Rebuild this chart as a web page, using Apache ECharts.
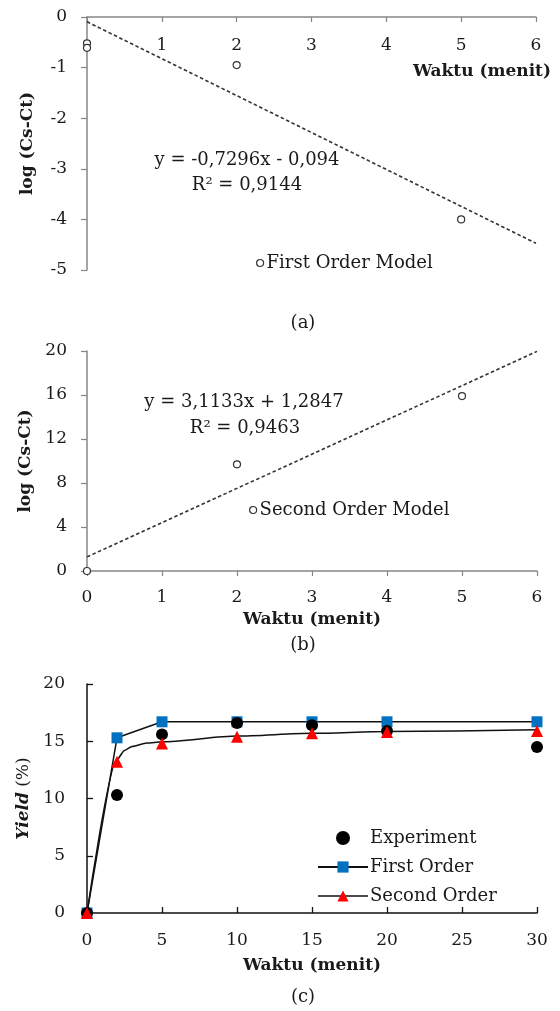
<!DOCTYPE html>
<html>
<head>
<meta charset="utf-8">
<script src="https://cdn.jsdelivr.net/npm/echarts@6/dist/echarts.min.js"></script>
<style>
html,body{margin:0;padding:0;background:#fff;}
#c{width:560px;height:1011px;}
</style>
</head>
<body>
<div id="c"></div>
<script>
// ---- data ----
const timeA = [0, 0, 2, 5];
const logA = [-0.52, -0.61, -0.95, -4.0];
const trendAX = [0, 6];
const trendAY = [-0.094, -4.472];

const timeB = [0, 2, 5];
const valB = [0, 9.7, 15.9];
const trendBX = [0, 6];
const trendBY = [1.2847, 19.965];

const timeC = [0, 2, 5, 10, 15, 20, 30];
const experiment = [0, 10.3, 15.6, 16.6, 16.4, 15.9, 14.5];
const firstOrder = [0, 15.3, 16.7, 16.7, 16.7, 16.7, 16.7];
const secondOrder = [0, 13.2, 14.8, 15.4, 15.7, 15.8, 15.9];
// second-order model curve as drawn
const secondCurveX = [0, 2, 2.5, 3, 4, 5, 10, 15, 20, 30];
const secondCurveY = [0, 13.4, 14.2, 14.55, 14.85, 14.95, 15.45, 15.7, 15.85, 16.0];

const ticksA_Y = [0, -1, -2, -3, -4, -5];
const ticksB_Y = [0, 4, 8, 12, 16, 20];
const ticksC_Y = [0, 5, 10, 15, 20];

const pair = (xs, ys) => xs.map((x, i) => [x, ys[i]]);

const FF = '"DejaVu Serif", "Liberation Serif", serif';
const FS = 17;   // tick labels, axis names
const FT = 18;   // annotations, legends
const grey = '#868686';
const ink = '#1a1a1a';
const lbl = {color: ink, fontFamily: FF, fontSize: FS};
const nameStyle = {color: ink, fontFamily: FF, fontSize: FS, fontWeight: 'bold'};
const openCircle = {color: '#fff', borderColor: '#333', borderWidth: 1.2, opacity: 1};

const chart = echarts.init(document.getElementById('c'), null, {renderer: 'canvas'});

function txt(text, x, y, opts) {
  return {
    type: 'text', silent: true,
    style: Object.assign({
      text: text, x: x, y: y, textAlign: 'center', textVerticalAlign: 'middle',
      font: FT + 'px ' + FF, fill: ink
    }, opts || {})
  };
}

const option = {
  animation: false,
  backgroundColor: '#fff',
  grid: [
    {left: 87, top: 17, width: 449, height: 253},
    {left: 87, top: 351, width: 450, height: 220},
    {left: 87, top: 684, width: 450, height: 229}
  ],
  xAxis: [
    {
      gridIndex: 0, type: 'value', min: 0, max: 6, interval: 1, position: 'top',
      axisLine: {onZero: false, lineStyle: {color: grey, width: 1.5}},
      axisTick: {inside: true, length: 5, lineStyle: {color: grey, width: 1.2}},
      axisLabel: Object.assign({inside: true, margin: 20, formatter: v => v === 0 ? '' : String(v)}, lbl),
      splitLine: {show: false}
    },
    {
      gridIndex: 1, type: 'value', min: 0, max: 6, interval: 1,
      name: 'Waktu (menit)', nameLocation: 'middle', nameGap: 40, nameTextStyle: nameStyle,
      axisLine: {onZero: false, lineStyle: {color: grey, width: 1.5}},
      axisTick: {length: 5, lineStyle: {color: grey, width: 1.2}},
      axisLabel: Object.assign({margin: 18}, lbl),
      splitLine: {show: false}
    },
    {
      gridIndex: 2, type: 'value', min: 0, max: 30, interval: 5,
      name: 'Waktu (menit)', nameLocation: 'middle', nameGap: 44, nameTextStyle: nameStyle,
      axisLine: {onZero: false, lineStyle: {color: '#111', width: 1.5}},
      axisTick: {inside: true, length: 6, lineStyle: {color: '#111', width: 1.3}},
      axisLabel: Object.assign({margin: 19}, lbl),
      splitLine: {show: false}
    }
  ],
  yAxis: [
    {
      gridIndex: 0, type: 'value', min: ticksA_Y[ticksA_Y.length - 1], max: ticksA_Y[0], interval: 1,
      name: 'log (Cs-Ct)', nameLocation: 'middle', nameGap: 51, nameTextStyle: nameStyle,
      axisLine: {show: true, onZero: false, lineStyle: {color: grey, width: 1.5}},
      axisTick: {show: true, length: 6, lineStyle: {color: grey, width: 1.2}},
      axisLabel: Object.assign({margin: 20}, lbl),
      splitLine: {show: false}
    },
    {
      gridIndex: 1, type: 'value', min: ticksB_Y[0], max: ticksB_Y[ticksB_Y.length - 1], interval: 4,
      name: 'log (Cs-Ct)', nameLocation: 'middle', nameGap: 53, nameTextStyle: nameStyle,
      axisLine: {show: true, onZero: false, lineStyle: {color: grey, width: 1.5}},
      axisTick: {show: true, length: 6, lineStyle: {color: grey, width: 1.2}},
      axisLabel: Object.assign({margin: 20}, lbl),
      splitLine: {show: false}
    },
    {
      gridIndex: 2, type: 'value', min: ticksC_Y[0], max: ticksC_Y[ticksC_Y.length - 1], interval: 5,
      name: '{i|Yield} (%)', nameLocation: 'middle', nameGap: 55,
      nameTextStyle: {color: ink, fontFamily: FF, fontSize: FS,
        rich: {i: {fontFamily: FF, fontSize: FS, fontStyle: 'italic', fontWeight: 'bold', color: ink}}},
      axisLine: {show: true, onZero: false, lineStyle: {color: '#111', width: 1.5}},
      axisTick: {show: true, inside: true, length: 6, lineStyle: {color: '#111', width: 1.3}},
      axisLabel: Object.assign({margin: 22}, lbl),
      splitLine: {show: false}
    }
  ],
  legend: [
    {
      data: ['First Order Model'], left: 256, top: 254, padding: 0, icon: 'circle',
      itemWidth: 7, itemHeight: 7, itemGap: 5,
      itemStyle: {color: '#fff', borderColor: '#333', borderWidth: 1.2},
      textStyle: {color: ink, fontFamily: FF, fontSize: FT, padding: [0, 0, 0, -2]}
    },
    {
      data: ['Second Order Model'], left: 249, top: 501, padding: 0, icon: 'circle',
      itemWidth: 7, itemHeight: 7, itemGap: 5,
      itemStyle: {color: '#fff', borderColor: '#333', borderWidth: 1.2},
      textStyle: {color: ink, fontFamily: FF, fontSize: FT, padding: [0, 0, 0, -2]}
    },
    {
      data: [
        {name: 'Experiment'},
        {name: 'First Order'},
        {name: 'Second Order', lineStyle: {color: '#111', width: 1.5, opacity: 1}}
      ],
      left: 317, top: 829, padding: 0,
      orient: 'vertical', itemWidth: 50, itemHeight: 14, itemGap: 11,
      textStyle: {color: ink, fontFamily: FF, fontSize: FT, padding: [0, 0, 0, -3]}
    }
  ],
  series: [
    {
      name: 'First Order Model trend', type: 'line', xAxisIndex: 0, yAxisIndex: 0,
      data: pair(trendAX, trendAY), symbol: 'none',
      lineStyle: {color: '#333', width: 1.6, type: [3.5, 2.5]}, z: 2
    },
    {
      name: 'First Order Model', type: 'scatter', xAxisIndex: 0, yAxisIndex: 0,
      data: pair(timeA, logA), symbol: 'circle', symbolSize: 7,
      itemStyle: openCircle, z: 3
    },
    {
      name: 'Second Order Model trend', type: 'line', xAxisIndex: 1, yAxisIndex: 1,
      data: pair(trendBX, trendBY), symbol: 'none',
      lineStyle: {color: '#333', width: 1.6, type: [3.5, 2.5]}, z: 2
    },
    {
      name: 'Second Order Model', type: 'scatter', xAxisIndex: 1, yAxisIndex: 1,
      data: pair(timeB, valB), symbol: 'circle', symbolSize: 7,
      itemStyle: openCircle, z: 3
    },
    {
      name: 'First Order', type: 'line', xAxisIndex: 2, yAxisIndex: 2,
      data: pair(timeC, firstOrder), symbol: 'rect', symbolSize: 11, showAllSymbol: true,
      lineStyle: {color: '#111', width: 1.5}, itemStyle: {color: '#0070C0', opacity: 1}, z: 2
    },
    {
      name: 'Experiment', type: 'scatter', xAxisIndex: 2, yAxisIndex: 2,
      data: pair(timeC, experiment), symbol: 'circle', symbolSize: 12,
      itemStyle: {color: '#000', opacity: 1}, z: 3
    },
    {
      name: 'Second Order curve', type: 'line', xAxisIndex: 2, yAxisIndex: 2,
      data: pair(secondCurveX, secondCurveY), symbol: 'none',
      smooth: 0.25, smoothMonotone: 'x',
      lineStyle: {color: '#111', width: 1.5}, z: 2
    },
    {
      name: 'Second Order', type: 'line', xAxisIndex: 2, yAxisIndex: 2,
      data: pair(timeC, secondOrder), symbol: 'triangle', symbolSize: 12, showAllSymbol: true,
      lineStyle: {color: '#111', width: 1.5, opacity: 0}, itemStyle: {color: '#FF0000', opacity: 1}, z: 4
    }
  ],
  graphic: [
    txt('Waktu (menit)', 551, 72, {textAlign: 'right', font: 'bold ' + FS + 'px ' + FF}),
    txt('y = -0,7296x - 0,094', 247, 160),
    txt('R\u00b2 = 0,9144', 247, 185),
    txt('(a)', 303, 323),
    txt('y = 3,1133x + 1,2847', 244, 402),
    txt('R\u00b2 = 0,9463', 245, 428),
    txt('(b)', 303, 645),
    txt('(c)', 303, 997)
  ]
};
chart.setOption(option);
</script>
</body>
</html>
